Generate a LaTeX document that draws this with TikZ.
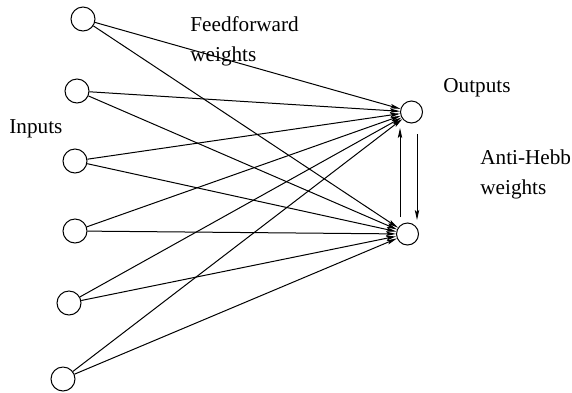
\documentclass[tikz,border=0pt]{standalone}
\usepackage{fontspec}
\setmainfont{Liberation Serif}
\usetikzlibrary{arrows.meta}
\begin{document}
\begin{tikzpicture}[x=0.5pt,y=-0.5pt,
  inp/.style={circle,draw,line width=0.5pt,minimum size=12pt,inner sep=0pt},
  outp/.style={circle,draw,line width=0.5pt,minimum size=11pt,inner sep=0pt},
  lbl/.style={anchor=base west,inner sep=0pt,font=\fontsize{10.6pt}{13pt}\selectfont},
  conn/.style={line width=0.5pt,-{Stealth[length=5pt,width=2.2pt,inset=1pt]}}]
\useasboundingbox (0,0) rectangle (572,392);
\node[inp] (i1) at (83,19) {};
\node[inp] (i2) at (77,91) {};
\node[inp] (i3) at (75,161) {};
\node[inp] (i4) at (75,231) {};
\node[inp] (i5) at (69,303) {};
\node[inp] (i6) at (63,379) {};
\node[outp] (o1) at (411.5,112) {};
\node[outp] (o2) at (407.5,234) {};
\foreach \i in {i1,i2,i3,i4,i5,i6}{
  \draw[conn] (\i) -- (o1);
  \draw[conn] (\i) -- (o2);
}
\coordinate (ua) at (400,217);
\coordinate (ub) at (400,128);
\coordinate (da) at (417,134);
\coordinate (db) at (417,220);
\draw[conn] (ua) -- (ub);
\draw[conn] (da) -- (db);
\node[lbl] (ff1) at (190,31) {Feedforward};
\node[lbl] (ff2) at (190,61) {weights};
\node[lbl] (out) at (443,92) {Outputs};
\node[lbl] (ah1) at (480,164) {Anti-Hebb};
\node[lbl] (ah2) at (480,194) {weights};
\node[lbl] (in) at (9,133) {Inputs};
\end{tikzpicture}
\end{document}
